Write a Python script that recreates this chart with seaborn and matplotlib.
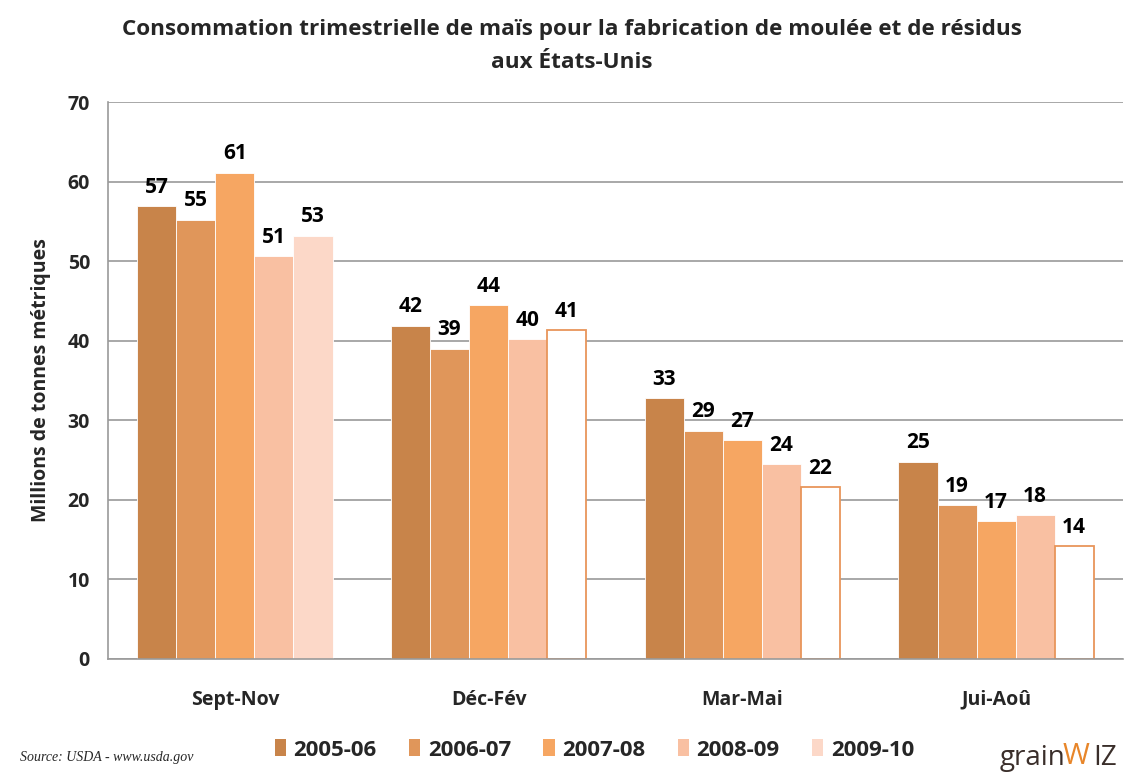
import matplotlib
matplotlib.use("Agg")
import matplotlib.pyplot as plt
import seaborn as sns
import pandas as pd
from matplotlib.patches import Patch

categories = ["Sept-Nov", "Déc-Fév", "Mar-Mai", "Jui-Aoû"]
seasons = ["2005-06", "2006-07", "2007-08", "2008-09", "2009-10"]
v_2005 = [56.9, 41.9, 32.8, 24.8]
v_2006 = [55.2, 39.0, 28.7, 19.3]
v_2007 = [61.1, 44.5, 27.5, 17.3]
v_2008 = [50.6, 40.2, 24.5, 18.1]
v_2009 = [53.2, 41.3, 21.6, 14.2]
labels_2005 = ["57", "42", "33", "25"]
labels_2006 = ["55", "39", "29", "19"]
labels_2007 = ["61", "44", "27", "17"]
labels_2008 = ["51", "40", "24", "18"]
labels_2009 = ["53", "41", "22", "14"]
projected_2009 = [False, True, True, True]

colors = ["#C8844A", "#E0965A", "#F6A662", "#F9C0A2", "#FCD8C8"]

values = [v_2005, v_2006, v_2007, v_2008, v_2009]
labels = [labels_2005, labels_2006, labels_2007, labels_2008, labels_2009]
rows = []
for s, vals in zip(seasons, values):
    for c, v in zip(categories, vals):
        rows.append({"cat": c, "season": s, "val": v})
df = pd.DataFrame(rows)

sns.set_style("white")
plt.rcParams["font.family"] = ["Open Sans", "DejaVu Sans"]

fig = plt.figure(figsize=(11.43, 7.76), dpi=100)
ax = fig.add_axes([108/1143, 1-659/776, (1123-108)/1143, (659-102)/776])

sns.barplot(data=df, x="cat", y="val", hue="season", order=categories,
            hue_order=seasons, palette=colors, width=0.77, ax=ax,
            edgecolor="white", linewidth=0.6, legend=False, saturation=1)

for i, cont in enumerate(ax.containers):
    if i == 4:
        for j, p in enumerate(cont.patches):
            if projected_2009[j]:
                p.set_facecolor("white")
                p.set_edgecolor("#E8955A")
                p.set_linewidth(1.3)
    ax.bar_label(cont, labels=labels[i], padding=6, fontsize=15,
                 fontweight="bold", color="black")

ax.set_ylim(0, 70)
ax.set_xlim(-0.5, 3.5)
ax.set_yticks(range(0, 71, 10))
ax.yaxis.grid(True, color="#9A9A9A", linewidth=1.2)
ax.set_axisbelow(True)
for sp in ["top", "right"]:
    ax.spines[sp].set_visible(False)
for sp in ["left", "bottom"]:
    ax.spines[sp].set_color("#9A9A9A")
    ax.spines[sp].set_linewidth(1.2)

ax.set_xticks([0, 1, 2, 3])
ax.set_xticklabels(categories, fontsize=14, fontweight="bold")
ax.tick_params(axis="x", length=0, pad=22)
ax.set_xticks([-0.5, 0.5, 1.5, 2.5, 3.5], minor=True)
ax.tick_params(axis="x", which="minor", length=7, color="#9A9A9A", width=1.2, direction="out")
ax.tick_params(axis="y", length=7, color="#9A9A9A", width=1.2, direction="out", labelsize=14, pad=6)
for t in ax.get_yticklabels():
    t.set_fontweight("bold")
ax.set_xlabel("")
ax.set_ylabel("Millions de tonnes métriques", fontsize=14, fontweight="bold", labelpad=12)

fig.text(0.5, 1-30/776, "Consommation trimestrielle de maïs pour la fabrication de moulée et de résidus",
         ha="center", va="center", fontsize=16.2, fontweight="bold")
fig.text(0.5, 1-62/776, "aux États-Unis", ha="center", va="center", fontsize=16.2, fontweight="bold")

handles = [Patch(facecolor=c, edgecolor="none") for c in colors]
fig.legend(handles, seasons, loc="center", bbox_to_anchor=(0.52, 1-750/776), ncol=5,
           frameon=False, prop={"weight": "bold", "size": 16}, handlelength=0.5,
           handleheight=0.8, handletextpad=0.35, columnspacing=1.45)

fig.text(20/1143, 1-758/776, "Source: USDA - www.usda.gov", fontsize=10,
         family=["Liberation Serif"], style="italic", va="center")

fig.text(1000/1143, 1-758/776, "grain", fontsize=20, color="#3A2E2A", va="center",
         family=["Open Sans"])
fig.text(1063/1143, 1-756/776, "W", fontsize=21, color="#E8862A", va="center",
         family=["Open Sans"])
fig.text(1093/1143, 1-758/776, "IZ", fontsize=20, color="#3A2E2A", va="center",
         family=["Open Sans"])

fig.savefig("out.png", dpi=100)
